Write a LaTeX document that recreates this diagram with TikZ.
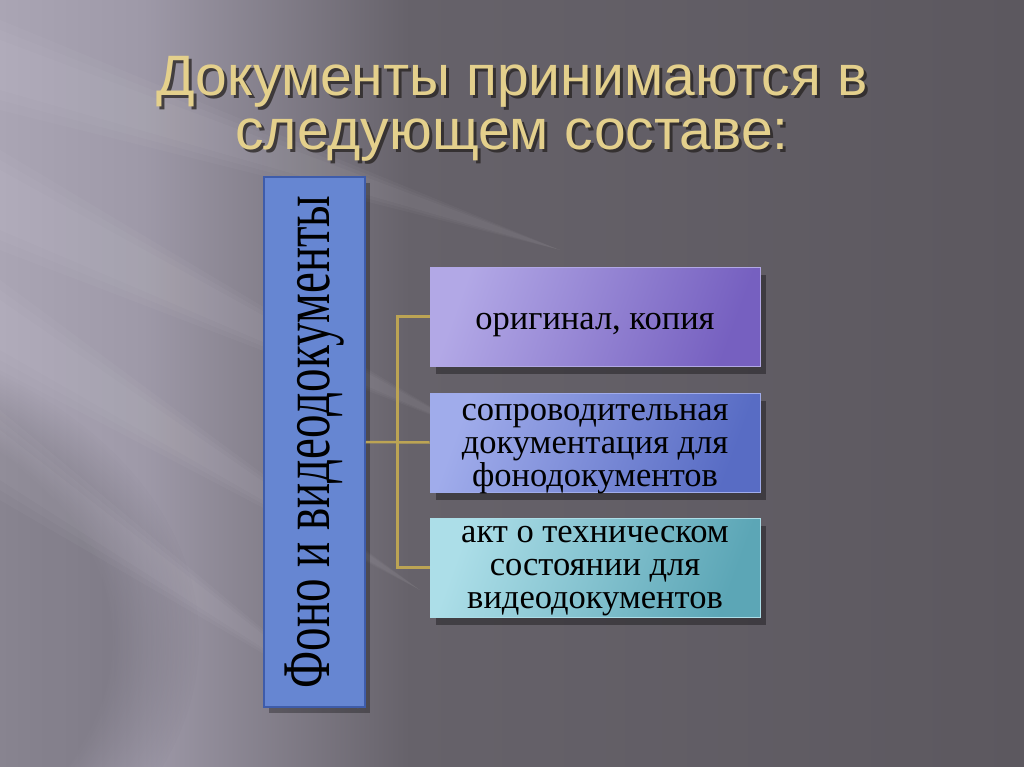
\documentclass[tikz,border=0pt]{standalone}
\usepackage{fontspec}
\setmainfont{Liberation Serif}
\newfontfamily\titlefont{Liberation Sans}
\usetikzlibrary{shadows,fadings}
\definecolor{bgL}{RGB}{170,165,180}
\definecolor{bgL2}{RGB}{158,153,168}
\definecolor{bgR}{RGB}{102,98,106}
\definecolor{bgD}{RGB}{92,88,95}
\definecolor{titlegold}{RGB}{228,208,140}
\definecolor{titleshadow}{RGB}{38,34,32}
\definecolor{vfill}{RGB}{102,134,210}
\definecolor{vdraw}{RGB}{62,92,170}
\definecolor{pA}{RGB}{178,168,230}
\definecolor{pB}{RGB}{118,96,192}
\definecolor{bA}{RGB}{160,172,235}
\definecolor{bB}{RGB}{88,108,196}
\definecolor{tA}{RGB}{172,222,232}
\definecolor{tB}{RGB}{92,166,182}
\definecolor{conncol}{RGB}{188,164,84}
\pgfdeclarehorizontalshading{bgshade}{100bp}{color(0bp)=(bgL); color(25bp)=(bgL); color(32bp)=(bgL2); color(45bp)=(bgR); color(75bp)=(bgD); color(100bp)=(bgD)}
\tikzset{
  titletext/.style={font=\titlefont\fontsize{57}{54}\selectfont, align=center, inner sep=0pt},
  itembox/.style={minimum width=330pt, minimum height=99pt, inner sep=1pt, align=center,
    font=\fontsize{34.5}{33}\selectfont, text=black, line width=0.8pt,
    drop shadow={shadow xshift=6pt, shadow yshift=-8pt, opacity=0.35, fill=black}},
  conn/.style={draw=conncol, line width=2.5pt},
  streak/.style={fill=white, opacity=0.03},
}
\begin{document}
\begin{tikzpicture}[x=1pt,y=-1pt]
\useasboundingbox (0,0) rectangle (1024,767);
% background
\shade[shading=bgshade] (0,0) rectangle (1024,767);
\fill[black, opacity=0.2, path fading=circle with fuzzy edge 20 percent] (-250,640) ellipse (450 and 320);
\foreach \w in {0,10,20}{
  \fill[streak] (0,170-\w) -- (470,430) -- (0,230+\w) -- cycle;
  \fill[streak] (0,300-\w) -- (420,590) -- (0,350+\w) -- cycle;
  \fill[streak] (0,430-\w) -- (360,710) -- (0,480+\w) -- cycle;
  \fill[streak] (0,40-\w) -- (560,250) -- (0,90+\w) -- cycle;
}
% title
\node[titletext, text=titleshadow, opacity=0.75, anchor=base] (titlesh) at (515,153) {Документы принимаются в\\следующем составе:};
\node[titletext, text=titlegold, anchor=base] (title) at (512,150) {Документы принимаются в\\следующем составе:};
% vertical box
\node[fill=vfill, draw=vdraw, line width=1.5pt, minimum width=101pt, minimum height=530pt, inner sep=0pt,
  drop shadow={shadow xshift=5pt, shadow yshift=-6pt, opacity=0.3, fill=black}] (v) at (314.5,442) {};
\node[rotate=90, font=\fontsize{47}{47}\selectfont, inner sep=0pt] (vt) at (v.center) {\scalebox{1}[1.45]{Фоно и видеодокументы}};
% item boxes
\node[itembox, left color=pA, right color=pB, shading angle=70, draw=pA, text height=25pt, text depth=0pt] (b1) at (595,316.5) {оригинал, копия};
\node[itembox, left color=bA, right color=bB, shading angle=70, draw=bA, text height=88pt, text depth=0pt] (b2) at (595,442.5) {сопроводительная\\документация для\\фонодокументов};
\node[itembox, left color=tA, right color=tB, shading angle=70, draw=tA, text height=82pt, text depth=0pt] (b3) at (595,567.5) {акт о техническом\\состоянии для\\видеодокументов};
% connectors
\draw[conn] (b1.west) -- ++(-32,0) coordinate (jt) |- (b3.west);
\draw[conn] (v.east) -- (b2.west);
\end{tikzpicture}
\end{document}
